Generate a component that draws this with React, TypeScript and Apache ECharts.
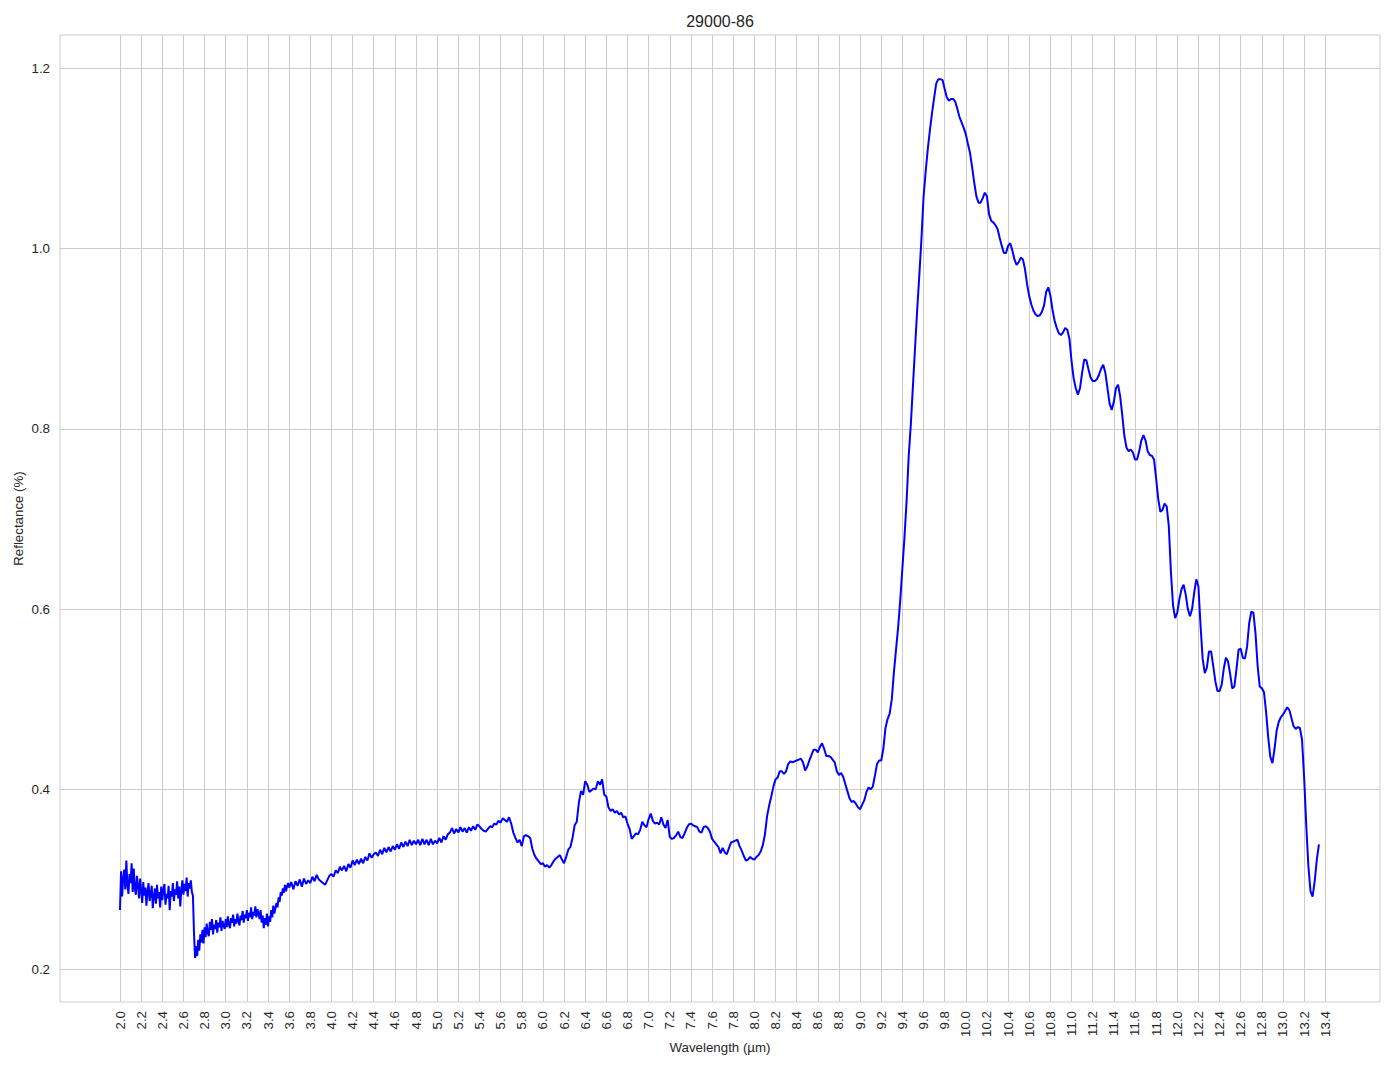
import React, { useEffect, useRef } from "react";
import * as echarts from "echarts";

const TITLE = "29000-86";
const X_NAME = "Wavelength (µm)";
const Y_NAME = "Reflectance (%)";

const xTicks = [
  2.0, 2.2, 2.4, 2.6, 2.8, 3.0, 3.2, 3.4, 3.6, 3.8, 4.0, 4.2, 4.4, 4.6, 4.8,
  5.0, 5.2, 5.4, 5.6, 5.8, 6.0, 6.2, 6.4, 6.6, 6.8, 7.0, 7.2, 7.4, 7.6, 7.8,
  8.0, 8.2, 8.4, 8.6, 8.8, 9.0, 9.2, 9.4, 9.6, 9.8, 10.0, 10.2, 10.4, 10.6,
  10.8, 11.0, 11.2, 11.4, 11.6, 11.8, 12.0, 12.2, 12.4, 12.6, 12.8, 13.0,
  13.2, 13.4,
];
const yTicks = [0.2, 0.4, 0.6, 0.8, 1.0, 1.2];

// Segment 1: 2.00 .. 3.59, sampled every 0.01 µm (noisy part)
const seg1Start = 2.0;
const seg1Step = 0.01;
const seg1Values = [
  0.266, 0.309, 0.281, 0.301, 0.311, 0.289, 0.321, 0.294, 0.284, 0.306,
  0.296, 0.318, 0.286, 0.312, 0.290, 0.283, 0.304, 0.293, 0.279, 0.301,
  0.288, 0.274, 0.297, 0.282, 0.291, 0.271, 0.287, 0.296, 0.276, 0.284,
  0.293, 0.268, 0.281, 0.290, 0.273, 0.294, 0.279, 0.286, 0.269, 0.292,
  0.277, 0.288, 0.295, 0.272, 0.284, 0.279, 0.293, 0.266, 0.287, 0.281,
  0.296, 0.276, 0.289, 0.283, 0.298, 0.279, 0.292, 0.270, 0.288, 0.299,
  0.283, 0.295, 0.287, 0.302, 0.281, 0.296, 0.290, 0.299, 0.286, 0.282,
  0.240, 0.213, 0.226, 0.215, 0.233, 0.221, 0.239, 0.230, 0.244, 0.229,
  0.247, 0.236, 0.251, 0.241, 0.237, 0.253, 0.244, 0.256, 0.239, 0.250,
  0.245, 0.255, 0.241, 0.252, 0.247, 0.258, 0.243, 0.254, 0.249, 0.245,
  0.256, 0.247, 0.259, 0.250, 0.246, 0.257, 0.252, 0.261, 0.248, 0.256,
  0.251, 0.262, 0.254, 0.249, 0.260, 0.255, 0.265, 0.252, 0.261, 0.257,
  0.266, 0.254, 0.263, 0.258, 0.269, 0.256, 0.264, 0.260, 0.270, 0.258,
  0.267, 0.262, 0.256, 0.266, 0.252, 0.260, 0.246, 0.257, 0.250, 0.262,
  0.248, 0.259, 0.253, 0.266, 0.258, 0.271, 0.262, 0.268, 0.274, 0.269,
  0.280, 0.275, 0.286, 0.282, 0.290, 0.285, 0.294, 0.287, 0.292, 0.296,
];

// Segment 2: 3.60 .. 9.28, sampled every 0.02 µm
const seg2Start = 3.6;
const seg2Step = 0.02;
const seg2Values = [
  0.291, 0.297, 0.289, 0.298, 0.293, 0.300, 0.292, 0.301, 0.295, 0.299,
  0.296, 0.303, 0.298, 0.305, 0.300, 0.298, 0.296, 0.294, 0.299, 0.304,
  0.306, 0.303, 0.310, 0.307, 0.314, 0.310, 0.315, 0.309, 0.317, 0.313,
  0.321, 0.316, 0.322, 0.317, 0.323, 0.318, 0.325, 0.321, 0.329, 0.324,
  0.328, 0.330, 0.326, 0.333, 0.328, 0.335, 0.330, 0.336, 0.331, 0.337,
  0.333, 0.339, 0.334, 0.341, 0.336, 0.342, 0.337, 0.344, 0.338, 0.343,
  0.339, 0.344, 0.338, 0.345, 0.339, 0.344, 0.338, 0.345, 0.339, 0.343,
  0.340, 0.346, 0.341, 0.348, 0.344, 0.350, 0.352, 0.357, 0.351, 0.356,
  0.352, 0.358, 0.353, 0.357, 0.352, 0.358, 0.354, 0.359, 0.355, 0.361,
  0.359, 0.356, 0.354, 0.353, 0.356, 0.359, 0.358, 0.362, 0.361, 0.365,
  0.363, 0.368, 0.366, 0.364, 0.369, 0.362, 0.352, 0.346, 0.341, 0.344,
  0.337, 0.348, 0.349, 0.348, 0.346, 0.334, 0.327, 0.323, 0.320, 0.317,
  0.318, 0.314, 0.316, 0.313, 0.316, 0.320, 0.323, 0.325, 0.327, 0.322,
  0.318, 0.325, 0.333, 0.336, 0.346, 0.360, 0.364, 0.385, 0.398, 0.394,
  0.409, 0.405, 0.397, 0.399, 0.401, 0.400, 0.409, 0.405, 0.411, 0.394,
  0.392, 0.380, 0.376, 0.378, 0.374, 0.376, 0.372, 0.374, 0.369, 0.370,
  0.362, 0.356, 0.345, 0.348, 0.351, 0.350, 0.355, 0.364, 0.360, 0.358,
  0.367, 0.373, 0.365, 0.362, 0.363, 0.361, 0.369, 0.361, 0.357, 0.366,
  0.347, 0.345, 0.346, 0.349, 0.353, 0.347, 0.346, 0.351, 0.357, 0.361,
  0.362, 0.360, 0.359, 0.358, 0.353, 0.352, 0.358, 0.359, 0.357, 0.353,
  0.345, 0.342, 0.339, 0.336, 0.329, 0.335, 0.330, 0.328, 0.335, 0.341,
  0.342, 0.343, 0.344, 0.337, 0.332, 0.326, 0.321, 0.322, 0.325, 0.323,
  0.322, 0.325, 0.327, 0.331, 0.338, 0.350, 0.370, 0.382, 0.392, 0.403,
  0.411, 0.413, 0.420, 0.420, 0.417, 0.420, 0.428, 0.431, 0.430, 0.431,
  0.432, 0.433, 0.434, 0.430, 0.421, 0.425, 0.432, 0.438, 0.444, 0.444,
  0.441, 0.447, 0.451, 0.445, 0.437, 0.437, 0.436, 0.433, 0.430, 0.420,
  0.416, 0.418, 0.414, 0.406, 0.398, 0.390, 0.386, 0.387, 0.384, 0.380,
  0.378, 0.383, 0.388, 0.397, 0.402, 0.400, 0.403, 0.415, 0.428, 0.432,
  0.432, 0.445, 0.468, 0.478, 0.484,
];

// Segment 3: 9.30 .. 13.34, sampled every 0.02 µm (smooth part)
const seg3Start = 9.3;
const seg3Step = 0.02;
const seg3Values = [
  0.500, 0.530, 0.555, 0.580, 0.610, 0.645, 0.680, 0.720, 0.770, 0.805,
  0.848, 0.890, 0.932, 0.970, 1.010, 1.057, 1.085, 1.110, 1.131, 1.150,
  1.167, 1.183, 1.188, 1.188, 1.187, 1.177, 1.168, 1.164, 1.166, 1.166,
  1.163, 1.155, 1.146, 1.140, 1.134, 1.127, 1.116, 1.106, 1.090, 1.073,
  1.058, 1.051, 1.051, 1.056, 1.062, 1.058, 1.038, 1.031, 1.029, 1.026,
  1.022, 1.012, 1.003, 0.995, 0.995, 1.003, 1.006, 0.998, 0.988, 0.982,
  0.985, 0.990, 0.988, 0.977, 0.960, 0.947, 0.938, 0.931, 0.927, 0.925,
  0.926, 0.930, 0.937, 0.952, 0.957, 0.948, 0.932, 0.920, 0.912, 0.906,
  0.904, 0.907, 0.912, 0.910, 0.900, 0.875, 0.856, 0.845, 0.838, 0.845,
  0.862, 0.877, 0.876, 0.866, 0.857, 0.853, 0.853, 0.855, 0.860, 0.867,
  0.871, 0.862, 0.845, 0.828, 0.821, 0.830, 0.845, 0.849, 0.836, 0.815,
  0.792, 0.779, 0.775, 0.777, 0.774, 0.766, 0.766, 0.775, 0.787, 0.793,
  0.787, 0.775, 0.771, 0.770, 0.766, 0.745, 0.722, 0.708, 0.710, 0.717,
  0.714, 0.692, 0.641, 0.604, 0.590, 0.596, 0.611, 0.622, 0.627, 0.616,
  0.600, 0.592, 0.600, 0.618, 0.633, 0.625, 0.582, 0.545, 0.529, 0.535,
  0.553, 0.553, 0.537, 0.520, 0.509, 0.509, 0.516, 0.534, 0.546, 0.542,
  0.528, 0.512, 0.514, 0.533, 0.555, 0.556, 0.546, 0.545, 0.558, 0.584,
  0.597, 0.596, 0.573, 0.537, 0.514, 0.512, 0.508, 0.486, 0.458, 0.436,
  0.429, 0.445, 0.465, 0.475, 0.480, 0.483, 0.487, 0.491, 0.488, 0.479,
  0.470, 0.467, 0.469, 0.468, 0.455, 0.413, 0.360, 0.315, 0.287, 0.281,
  0.298, 0.322, 0.339,
];

const X_MIN = 1.4325;
const X_MAX = 13.9175;
const Y_MIN = 0.164;
const Y_MAX = 1.237;

function toPoints(start: number, step: number, values: number[]) {
  return values.map((v, i) => [Math.round((start + i * step) * 1000) / 1000, v]);
}

export default function App() {
  const ref = useRef<HTMLDivElement>(null);
  useEffect(() => {
    if (!ref.current) return;
    const chart = echarts.init(ref.current, undefined, { renderer: "svg" });
    const data = [
      ...toPoints(seg1Start, seg1Step, seg1Values),
      ...toPoints(seg2Start, seg2Step, seg2Values),
      ...toPoints(seg3Start, seg3Step, seg3Values),
    ];
    const textColor = "#262626";
    const font = "'Liberation Sans', Arial, sans-serif";
    chart.setOption({
      animation: false,
      backgroundColor: "#ffffff",
      title: {
        text: TITLE,
        left: 715,
        textAlign: "center",
        top: 8,
        textStyle: { fontFamily: font, fontSize: 16, fontWeight: "normal", color: textColor },
      },
      grid: {
        left: 60,
        right: 14,
        top: 35,
        bottom: 67,
        show: true,
        borderColor: "#cccccc",
        borderWidth: 1,
        containLabel: false,
      },
      xAxis: {
        type: "value",
        min: X_MIN,
        max: X_MAX,
        name: X_NAME,
        nameLocation: "middle",
        nameGap: 39,
        nameMoveOverlap: false,
        nameTextStyle: { fontFamily: font, fontSize: 13.3, color: textColor },
        axisLine: { show: false },
        axisTick: { show: false, customValues: xTicks },
        axisLabel: {
          customValues: xTicks,
          rotate: 90,
          margin: 9,
          fontFamily: font,
          fontSize: 13.3,
          color: textColor,
          formatter: (v: number) => v.toFixed(1),
        },
        splitLine: { show: true, lineStyle: { color: "#cccccc", width: 1 } },
      },
      yAxis: {
        type: "value",
        min: Y_MIN,
        max: Y_MAX,
        name: Y_NAME,
        nameLocation: "middle",
        nameGap: 35,
        nameMoveOverlap: false,
        nameTextStyle: { fontFamily: font, fontSize: 13.3, color: textColor },
        axisLine: { show: false },
        axisTick: { show: false, customValues: yTicks },
        axisLabel: {
          customValues: yTicks,
          margin: 10,
          fontFamily: font,
          fontSize: 13.3,
          color: textColor,
          formatter: (v: number) => v.toFixed(1),
        },
        splitLine: { show: true, lineStyle: { color: "#cccccc", width: 1 } },
      },
      series: [
        {
          type: "line",
          data,
          showSymbol: false,
          symbol: "none",
          lineStyle: { color: "#0000ff", width: 2 },
          itemStyle: { color: "#0000ff" },
        },
      ],
    });
    return () => chart.dispose();
  }, []);
  return <div ref={ref} style={{ width: 1394, height: 1069, marginLeft: -8, marginTop: -8 }} />;
}
